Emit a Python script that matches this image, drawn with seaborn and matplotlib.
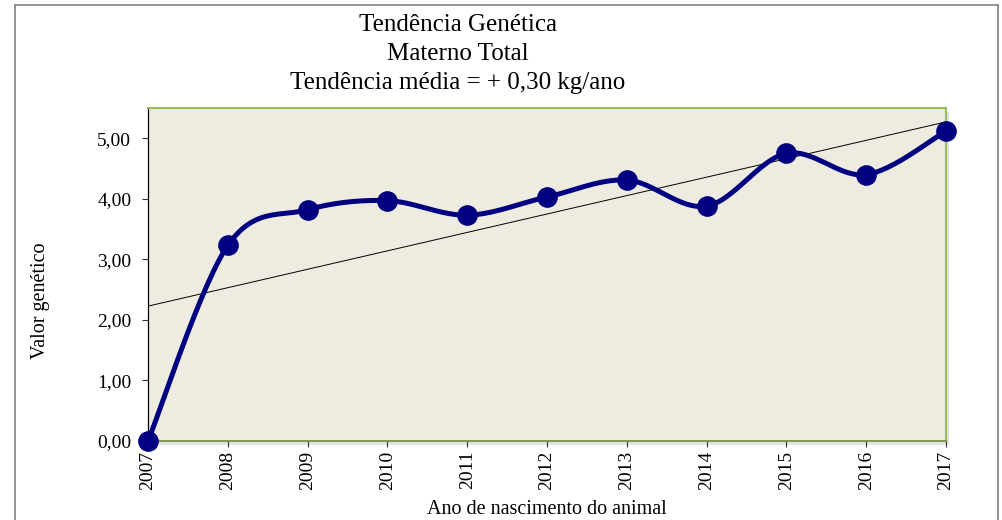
import numpy as np
import pandas as pd
import matplotlib.pyplot as plt
from matplotlib.lines import Line2D
from matplotlib.patches import Rectangle
from matplotlib.ticker import FuncFormatter
import seaborn as sns

sns.set_theme(style="ticks")
plt.rcParams["font.family"] = ["Liberation Serif", "DejaVu Serif"]
plt.rcParams["text.color"] = "black"
plt.rcParams["axes.labelcolor"] = "black"
plt.rcParams["xtick.color"] = "black"
plt.rcParams["ytick.color"] = "black"

anos = [2007, 2008, 2009, 2010, 2011, 2012, 2013, 2014, 2015, 2016, 2017]
valores = [0.00, 3.23, 3.82, 3.97, 3.73, 4.03, 4.31, 3.88, 4.75, 4.40, 5.12]
titulo = ["Tendência Genética", "Materno Total", "Tendência média = + 0,30 kg/ano"]

df = pd.DataFrame({"ano": anos, "valor": valores})


def smooth(x, y, n=30):
    # bezier smoothing like the spreadsheet "smoothed line"
    x = np.asarray(x, float)
    y = np.asarray(y, float)
    px = np.concatenate([[x[0]], x, [x[-1]]])
    py = np.concatenate([[y[0]], y, [y[-1]]])
    xs, ys = [], []
    t = np.linspace(0, 1, n)
    for i in range(len(x) - 1):
        p0 = np.array([px[i + 1], py[i + 1]])
        p3 = np.array([px[i + 2], py[i + 2]])
        p1 = p0 + (np.array([px[i + 2], py[i + 2]]) - np.array([px[i], py[i]])) / 6
        p2 = p3 - (np.array([px[i + 3], py[i + 3]]) - np.array([px[i + 1], py[i + 1]])) / 6
        b = ((1 - t) ** 3)[:, None] * p0 + (3 * (1 - t) ** 2 * t)[:, None] * p1 \
            + (3 * (1 - t) * t ** 2)[:, None] * p2 + (t ** 3)[:, None] * p3
        xs.extend(b[:, 0])
        ys.extend(b[:, 1])
    return np.array(xs), np.array(ys)


W, H = 1002, 520
fig = plt.figure(figsize=(W / 100, H / 100), dpi=100)
ax = fig.add_axes([148 / W, 1 - 441 / H, (946 - 148) / W, (441 - 108) / H])
ax.set_facecolor("#EEECE1")

# soft shadow behind the plot area
fig.add_artist(Rectangle((151 / W, 1 - 445 / H), (946 - 148) / W, (441 - 108) / H,
                         transform=fig.transFigure, facecolor="#d0d0d0", edgecolor="none",
                         alpha=0.6, zorder=-1))

sx, sy = smooth(df["ano"], df["valor"])
sns.regplot(data=df, x="ano", y="valor", scatter=False, ci=None, truncate=True,
            line_kws={"color": "black", "lw": 0.7}, ax=ax)
sns.lineplot(x=sx, y=sy, sort=False, color="#000080", lw=3.6, ax=ax)
sns.scatterplot(data=df, x="ano", y="valor", color="#000080", s=190,
                edgecolor="#000080", zorder=5, clip_on=False, ax=ax)

ax.set_xlim(2007, 2017)
ax.set_ylim(0, 5.5)
ax.set_xticks(anos)
ax.set_xticklabels([str(a) for a in anos], rotation=90, fontsize=14)
ax.set_yticks([0, 1, 2, 3, 4, 5])
ax.yaxis.set_major_formatter(FuncFormatter(lambda v, p: f"{v:.2f}".replace(".", ",")))
ax.tick_params(axis="y", labelsize=14, length=4, width=0.8, color="#333333", pad=8)
ax.tick_params(axis="x", length=4, width=0.8, color="#333333", pad=3)

ax.set_xlabel("Ano de nascimento do animal", fontsize=14.5)
ax.xaxis.set_label_coords(547 / W, 1 - 514 / H, transform=fig.transFigure)
ax.xaxis.label.set_va("baseline")
ax.set_ylabel("Valor genético", fontsize=14.5)
ax.yaxis.set_label_coords(41 / W, 1 - 301 / H, transform=fig.transFigure)
ax.yaxis.label.set_va("center")

for s in ["top", "right"]:
    ax.spines[s].set_color("#9BBB59")
    ax.spines[s].set_linewidth(1.5)
ax.spines["left"].set_color("black")
ax.spines["left"].set_linewidth(0.9)
ax.spines["bottom"].set_color("#6f8a3a")
ax.spines["bottom"].set_linewidth(1.2)

for linha, base in zip(titulo, [31, 60, 89]):
    fig.text(458 / W, 1 - base / H, linha, ha="center", va="baseline", fontsize=18)

# outer chart border
borda = dict(color="#808080", lw=1.2, transform=fig.transFigure)
fig.add_artist(Line2D([15 / W, 15 / W], [0, 1 - 5 / H], **borda))
fig.add_artist(Line2D([15 / W, 998 / W], [1 - 5 / H, 1 - 5 / H], **borda))
fig.add_artist(Line2D([998 / W, 998 / W], [0, 1 - 5 / H], **borda))

fig.savefig("out.png", dpi=100)
